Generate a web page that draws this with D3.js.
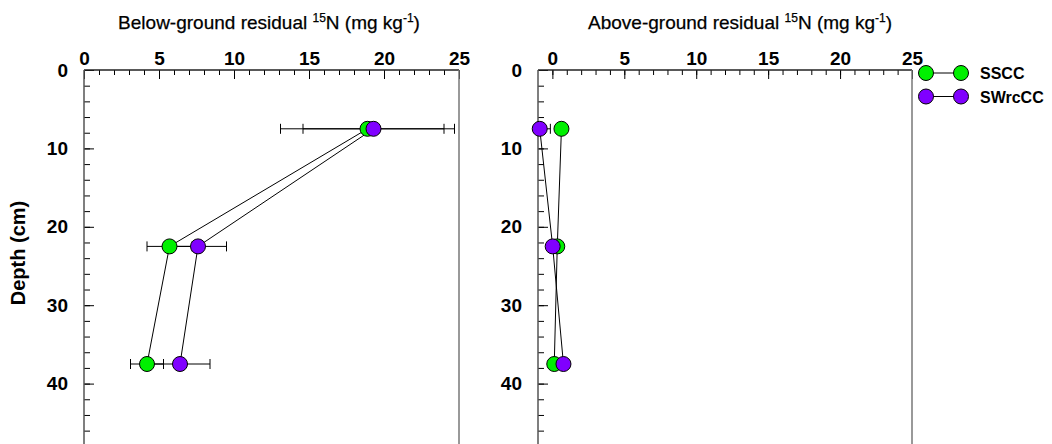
<!DOCTYPE html>
<meta charset="utf-8">
<script src="https://cdnjs.cloudflare.com/ajax/libs/d3/7.8.5/d3.min.js"></script>
<style>
body { margin: 0; background: #fff; }
text { font-family: "Liberation Sans", Arial, sans-serif; }
</style>
<body>
<script>

// data
var depths = [7.5, 22.5, 37.5];
var seriesNames = ["SSCC", "SWrcCC"];
var seriesColors = ["#00f000", "#8000ff"];

var belowSSCC = [18.9, 5.7, 4.2];
var belowSSCCse = [5.8, 1.5, 1.1];
var belowSWrcCC = [19.3, 7.6, 6.4];
var belowSWrcCCse = [4.7, 1.9, 2.0];

var aboveSSCC = [0.63, 0.34, 0.13];
var aboveSSCCse = [0.2, 0.2, 0.2];
var aboveSWrcCC = [-0.88, 0.02, 0.77];
var aboveSWrcCCse = [0.74, 0.2, 0.2];

var xMajor = [0, 5, 10, 15, 20, 25];
var yMajor = [0, 10, 20, 30, 40];

var W = 1052, H = 444;
var svg = d3.select("body").append("svg")
  .attr("width", W)
  .attr("height", H);

var y = d3.scaleLinear().domain([0, 50]).range([70, 462]);

var panels = [
  { left: 84, right: 459, dom: [0, 25], title: "Below-ground residual ", titleX: 269,
    series: [[belowSSCC, belowSSCCse], [belowSWrcCC, belowSWrcCCse]] },
  { left: 538, right: 912, dom: [-1, 25], title: "Above-ground residual ", titleX: 740,
    series: [[aboveSSCC, aboveSSCCse], [aboveSWrcCC, aboveSWrcCCse]] }
];

panels.forEach(function(p, pi) {
  var x = d3.scaleLinear().domain(p.dom).range([p.left, p.right]);
  var g = svg.append("g");

  // clip
  g.append("clipPath").attr("id", "clip" + pi)
    .append("rect")
    .attr("x", p.left).attr("y", 70)
    .attr("width", p.right - p.left).attr("height", H - 70);

  // minor ticks top
  g.append("g")
    .attr("transform", "translate(0,70)")
    .call(d3.axisTop(x).tickValues(d3.range(0, 26, 1)).tickSize(-5).tickFormat(""))
    .call(function(s) { s.select(".domain").remove(); });
  // major ticks top
  g.append("g")
    .attr("transform", "translate(0,70)")
    .call(d3.axisTop(x).tickValues(xMajor).tickSize(-9).tickPadding(5))
    .call(function(s) {
      s.select(".domain").remove();
      s.selectAll("text").style("font-size", "19px").style("font-weight", "bold")
        .attr("fill", "#000");
    });

  // minor ticks left
  g.append("g")
    .attr("transform", "translate(" + p.left + ",0)")
    .call(d3.axisLeft(y).tickValues(d3.range(0, 51, 2)).tickSize(-6).tickFormat(""))
    .call(function(s) { s.select(".domain").remove(); });
  g.append("g")
    .attr("transform", "translate(" + p.left + ",0)")
    .call(d3.axisLeft(y).tickValues(yMajor).tickSize(-10).tickPadding(16))
    .call(function(s) {
      s.select(".domain").remove();
      s.selectAll("text").style("font-size", "19px").style("font-weight", "bold")
        .attr("fill", "#000");
    });

  // frame
  g.append("line").attr("x1", p.left).attr("x2", p.right).attr("y1", 70).attr("y2", 70)
    .attr("stroke", "#222").attr("stroke-width", 1.3);
  g.append("line").attr("x1", p.left).attr("x2", p.left).attr("y1", 70).attr("y2", H)
    .attr("stroke", "#555").attr("stroke-width", 1.5);
  g.append("line").attr("x1", p.right).attr("x2", p.right).attr("y1", 70).attr("y2", H)
    .attr("stroke", "#777").attr("stroke-width", 1.5);

  // title
  var t = g.append("text")
    .attr("x", p.titleX).attr("y", 29)
    .attr("text-anchor", "middle")
    .style("font-size", "19px")
    .attr("fill", "#000")
    .attr("stroke", "#000")
    .attr("stroke-width", 0.25);
  t.append("tspan").text(p.title);
  t.append("tspan").attr("dy", -7).style("font-size", "12px").text("15");
  t.append("tspan").attr("dy", 7).text("N (mg kg");
  t.append("tspan").attr("dy", -7).style("font-size", "12px").text("-1");
  t.append("tspan").attr("dy", 7).text(")");

  var plot = g.append("g").attr("clip-path", "url(#clip" + pi + ")");

  // error bars
  p.series.forEach(function(s) {
    var vals = s[0], se = s[1];
    depths.forEach(function(d, i) {
      var lo = x(vals[i] - se[i]), hi = x(vals[i] + se[i]), yy = y(d);
      plot.append("line").attr("x1", lo).attr("x2", hi).attr("y1", yy).attr("y2", yy)
        .attr("stroke", "#000").attr("stroke-width", 1);
      [lo, hi].forEach(function(cx) {
        plot.append("line").attr("x1", cx).attr("x2", cx).attr("y1", yy - 5).attr("y2", yy + 5)
          .attr("stroke", "#000").attr("stroke-width", 1);
      });
    });
  });

  // lines
  var line = d3.line()
    .x(function(d) { return x(d[0]); })
    .y(function(d) { return y(d[1]); });
  p.series.forEach(function(s) {
    plot.append("path")
      .datum(depths.map(function(d, i) { return [s[0][i], d]; }))
      .attr("d", line)
      .attr("fill", "none")
      .attr("stroke", "#000")
      .attr("stroke-width", 1);
  });

  // points
  p.series.forEach(function(s, si) {
    g.selectAll(".pt" + si)
      .data(depths.map(function(d, i) { return [s[0][i], d]; }))
      .enter().append("circle")
      .attr("cx", function(d) { return x(d[0]); })
      .attr("cy", function(d) { return y(d[1]); })
      .attr("r", 7.5)
      .attr("fill", seriesColors[si])
      .attr("stroke", "#000")
      .attr("stroke-width", 1);
  });
});

// y axis label
svg.append("text")
  .attr("transform", "translate(25,253) rotate(-90)")
  .attr("text-anchor", "middle")
  .style("font-size", "20px")
  .style("font-weight", "bold")
  .text("Depth (cm)");

// legend
var legend = svg.append("g");
seriesNames.forEach(function(name, i) {
  var ly = 73 + i * 23.5;
  legend.append("line").attr("x1", 926).attr("x2", 961).attr("y1", ly).attr("y2", ly)
    .attr("stroke", "#000").attr("stroke-width", 1);
  [926, 961].forEach(function(cx) {
    legend.append("circle").attr("cx", cx).attr("cy", ly).attr("r", 7.5)
      .attr("fill", seriesColors[i]).attr("stroke", "#000").attr("stroke-width", 1);
  });
  legend.append("text").attr("x", 980).attr("y", ly + 6)
    .style("font-size", "16px").style("font-weight", "bold")
    .text(name);
});

</script>
</body>
</html>
